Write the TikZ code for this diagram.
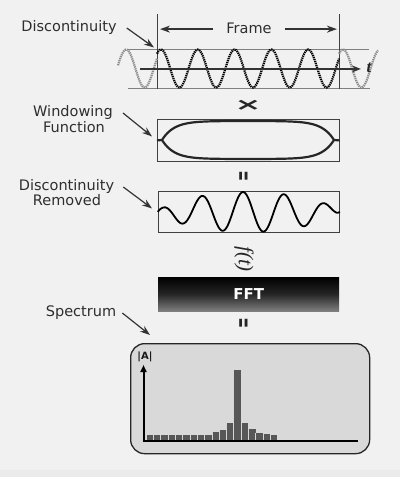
\documentclass[tikz,border=0pt]{standalone}
\usepackage{fontspec}
\setmainfont{DejaVu Sans}
\newfontfamily\serifit{Liberation Serif}
\usetikzlibrary{arrows.meta}
\definecolor{bg}{HTML}{F1F1F1}
\definecolor{txt}{HTML}{2E2E2E}
\definecolor{spfill}{HTML}{D9D9D9}
\definecolor{barc}{HTML}{575757}
\begin{document}
\begin{tikzpicture}[x=1pt,y=-1pt,
  lbl/.style={font=\fontsize{14.5}{16}\selectfont, inner sep=0pt, text=txt, anchor=base},
  ptr/.style={draw=black!80, line width=1.2pt, -{Stealth[length=10pt,width=7pt]}},
  boxd/.style={draw=black!75, line width=0.9pt, inner sep=0pt, anchor=north west},
  wave/.style={line width=2.2pt, dash pattern=on 1.3pt off 0.8pt},
  eqsign/.style={rotate=90, inner sep=0pt, font=\fontsize{14}{14}\bfseries, text=black!85}
]
\fill[bg] (0,0) rectangle (400,477);
\useasboundingbox (0,0) rectangle (400,477);
\fill[black!8] (0,470) rectangle (400,477);

% ---------- top: frame ----------
\node[boxd, minimum width=182pt, minimum height=39pt] (box1) at (157,49) {};
\draw[gray, line width=0.9pt] ([shift={(-29,0)}]box1.north west) -- ([shift={(29,0)}]box1.north east);
\draw[gray, line width=0.9pt] ([shift={(-29,0)}]box1.south west) -- ([shift={(30,0)}]box1.south east);
\draw[black!75, line width=1pt] (box1.south west) -- ([shift={(0,-35)}]box1.north west);
\draw[black!75, line width=1pt] (box1.south east) -- ([shift={(0,-35)}]box1.north east);
\node[lbl] (frame) at (249,33.3) {Frame};
\draw[ptr, line width=1.5pt] ([shift={(-13,1)}]frame.west) -- ([shift={(3,1)}]box1.north west |- frame.west);
\draw[ptr, line width=1.5pt] ([shift={(13,1)}]frame.east) -- ([shift={(-3,1)}]box1.north east |- frame.east);

\draw[wave, black!45] plot[domain=118:157, samples=60] (\x, {68.5-19*cos(9.7826*(\x+21))});
\draw[wave, black!45] plot[domain=339:378, samples=60] (\x, {68.5-19*cos(9.7826*(\x-343))});
\draw[wave, black] plot[domain=157:339, samples=220] (\x, {68.5-19*cos(9.7826*(\x-161))});
\draw[black!80, line width=1.3pt, -{Stealth[length=9pt,width=7pt]}] ([shift={(-17,0)}]box1.west) -- ([shift={(21,0)}]box1.east) coordinate (tend);
\node[inner sep=0pt, font=\serifit\fontsize{17}{17}\selectfont\bfseries\itshape, text=black!85] (tlab) at ([shift={(8,-1)}]tend) {t};

\node[lbl] (disc) at (69,31) {Discontinuity};
\draw[ptr] ([shift={(10,-3)}]disc.base east) -- ([shift={(-3,-1.5)}]box1.north west);

% ---------- times ----------
\node[inner sep=0pt, text=black!85] (times) at (248,105) {\scalebox{2.0}[1.05]{\fontsize{16}{16}\selectfont\bfseries ×}};

% ---------- windowing ----------
\node[boxd, minimum width=182pt, minimum height=42pt] (box2) at (157,119) {};
\draw[black!85, line width=2.2pt] (box2.west) -- (162,140)
  -- plot[domain=162:334, samples=120] (\x, {140-19*(1-exp(-(\x-162)/12))*(1-exp(-(334-\x)/12))})
  -- (box2.east);
\draw[black!85, line width=2.2pt] (162,140)
  -- plot[domain=162:334, samples=120] (\x, {140+19*(1-exp(-(\x-162)/12))*(1-exp(-(334-\x)/12))});
\node[lbl] (win1) at (73,116.5) {Windowing};
\node[lbl] (win2) at (74,132.5) {Function};
\draw[ptr] ([shift={(10,-3.5)}]win1.base east) -- ([shift={(-5,-4)}]box2.west);

% ---------- equals ----------
\node[eqsign] (eq1) at (245.3,176) {\scalebox{0.9}[1.75]{=}};

% ---------- removed ----------
\node[boxd, minimum width=181pt, minimum height=41pt] (box3) at (158,191) {};
\draw[black, line width=1.8pt] (box3.west) --
  plot[domain=158.5:338.5, samples=240] (\x, {212-20*(sin(0.99448*(\x-158)))^0.6*cos(8.7805*(\x-243))})
  -- (box3.east);
\node[lbl] (rem1) at (66.5,190) {Discontinuity};
\node[lbl] (rem2) at (67,205) {Removed};
\draw[ptr] ([shift={(9,-3)}]rem1.base east) -- ([shift={(-6,-3.5)}]box3.west);

% ---------- f(t) ----------
\node[rotate=-90, inner sep=0pt, font=\serifit\fontsize{21}{21}\selectfont, text=black!85] (ft) at (244,259) {\itshape f(t)};

% ---------- FFT ----------
\node[anchor=north west, minimum width=181pt, minimum height=34pt, inner sep=0pt,
      top color=black, bottom color=black!50, middle color=black!85, text=white,
      font=\fontsize{15}{15}\selectfont\bfseries] (fft) at (158,277) {FFT};

\node[eqsign] (eq2) at (245.3,323) {\scalebox{0.9}[1.75]{=}};

% ---------- spectrum ----------
\node[anchor=north west, draw=black!85, line width=1.3pt, fill=spfill, rounded corners=14pt,
      minimum width=239pt, minimum height=110pt, inner sep=0pt] (spbox) at (130,343) {};
\node[lbl] (spec) at (81,316) {Spectrum};
\draw[ptr] ([shift={(6,-3)}]spec.base east) -- ([shift={(20,-8)}]spbox.north west);

\foreach \t [count=\i from 0] in {435,435,435,435,435,435,435,435,435,432,430,423,370,423,429,432.5,434,435} {
  \fill[barc] ({146+\i*7.3},\t) rectangle ({146+(\i+1)*7.3},441);
  \draw[white!75!barc, line width=0.4pt] ({146+\i*7.3},\t) -- ({146+\i*7.3},441);
}
\coordinate (orig) at (143.5,441);
\draw[black, line width=2pt] ([shift={(-1,0)}]orig) -- ([shift={(214,0)}]orig) coordinate (xend);
\draw[black, line width=2pt, -{Triangle[length=7pt,width=6pt]}] (orig) -- ([shift={(0,-76)}]orig) coordinate (yend);
\node[inner sep=0pt, font=\fontsize{10}{10}\selectfont\bfseries, text=black!90] (alab) at (145,357) {|A|};
\end{tikzpicture}
\end{document}
